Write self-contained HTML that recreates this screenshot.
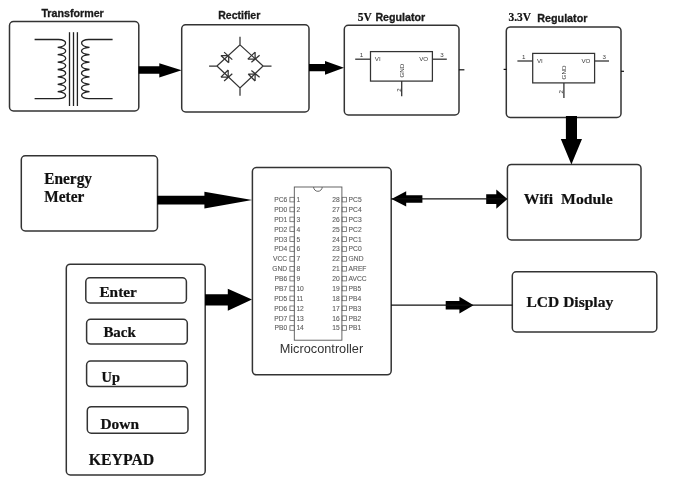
<!DOCTYPE html>
<html><head><meta charset="utf-8">
<style>
html,body{margin:0;padding:0;background:#fff;width:692px;height:494px;overflow:hidden}
svg{display:block}
.bx{fill:none;stroke:#333;stroke-width:1.5}
.ln{fill:none;stroke:#111;stroke-width:1.2}
.cal{font-family:"Liberation Sans",sans-serif;font-weight:bold;fill:#1a1a1a;stroke:#1a1a1a;stroke-width:0.3}
.tnr{font-family:"Liberation Serif",serif;font-weight:bold;fill:#111;stroke:#111;stroke-width:0.22}
.cl{fill:none;stroke:#222;stroke-width:1.3}
.pn{font-family:"Liberation Sans",sans-serif;font-size:6.7px;fill:#555;stroke:#777;stroke-width:0.12}
.sq{fill:none;stroke:#666;stroke-width:0.8}
.reg line{stroke:#333;stroke-width:1.3}
.rt{font-family:"Liberation Sans",sans-serif;font-size:6.2px;fill:#383838}
.dm path{fill:none;stroke:#333;stroke-width:1.25}
</style></head>
<body>
<svg style="will-change:transform" width="692" height="494" viewBox="0 0 692 494">
<rect class="bx" x="9.5" y="21.5" width="129.3" height="89.5" rx="4"/>
<rect class="bx" x="181.7" y="24.8" width="127.3" height="87.2" rx="4"/>
<rect class="bx" x="344.3" y="25.3" width="114.7" height="89.7" rx="4"/>
<rect class="bx" x="506.3" y="26.9" width="114.7" height="90.5" rx="4"/>
<rect class="bx" x="21.3" y="155.8" width="136.2" height="75.2" rx="4"/>
<rect class="bx" x="252.4" y="167.5" width="138.8" height="207.3" rx="4"/>
<rect class="bx" x="507.4" y="164.4" width="133.6" height="75.6" rx="4"/>
<rect class="bx" x="512.3" y="271.8" width="144.5" height="60.1" rx="4"/>
<rect class="bx" x="66.3" y="264.2" width="138.9" height="210.8" rx="4"/>
<rect class="bx" x="85.8" y="277.8" width="100.6" height="25.1" rx="4"/>
<rect class="bx" x="86.6" y="319.3" width="100.7" height="24.8" rx="4"/>
<rect class="bx" x="86.6" y="361.1" width="100.7" height="25.5" rx="4"/>
<rect class="bx" x="87.3" y="406.7" width="100.7" height="26.5" rx="4"/>
<g fill="#000">
<polygon points="138.6,66.2 159.3,66.2 159.3,63.2 181.6,70.3 159.3,77.6 159.3,73.8 138.6,73.8"/>
<polygon points="309,64.1 325,64.1 325,61 344,67.8 325,74.7 325,71.3 309,71.3"/>
<polygon points="565.9,116 577,116 577,139 582,139 571.4,164.5 560.8,139 565.9,139"/>
<polygon points="157.2,195.7 204.4,195.7 204.4,191.7 252.2,200 204.4,208.4 204.4,204.4 157.2,204.4"/>
<polygon points="205,294.3 227.8,294.3 227.8,288.8 252,299.5 227.8,310.7 227.8,305.5 205,305.5"/>
<polygon points="391.5,198.9 406.2,191.2 406.2,195.3 422.4,195.3 422.4,202.8 406.2,202.8 406.2,206.4"/>
<polygon points="486.2,194.3 496.3,194.3 496.3,189.6 507.4,198.9 496.3,208.8 496.3,204 486.2,204"/>
<polygon points="445.7,301 459.4,301 459.4,296.8 473.6,305.2 459.4,313.6 459.4,309.6 445.7,309.6"/>
</g>
<line class="ln" x1="391" y1="198.9" x2="507" y2="198.9"/>
<line class="ln" x1="391" y1="305.1" x2="512.5" y2="305.1"/>
<text class="cal" x="41.4" y="17.3" font-size="10.4" textLength="62.4" lengthAdjust="spacingAndGlyphs">Transformer</text>
<text class="cal" x="218.2" y="19.1" font-size="10.4" textLength="42.1" lengthAdjust="spacingAndGlyphs">Rectifier</text>
<text class="tnr" x="357.8" y="20.7" font-size="12.8" textLength="14" lengthAdjust="spacingAndGlyphs">5V</text>
<text class="cal" x="375.4" y="20.9" font-size="10.4" textLength="49.8" lengthAdjust="spacingAndGlyphs">Regulator</text>
<text class="tnr" x="508.4" y="20.8" font-size="12.5" textLength="22.7" lengthAdjust="spacingAndGlyphs">3.3V</text>
<text class="cal" x="537.3" y="21.6" font-size="10.3" textLength="50.1" lengthAdjust="spacingAndGlyphs">Regulator</text>
<text class="tnr" x="44.3" y="183.7" font-size="15.8" textLength="47.7" lengthAdjust="spacingAndGlyphs">Energy</text>
<text class="tnr" x="44.3" y="201.9" font-size="15.8" textLength="40" lengthAdjust="spacingAndGlyphs">Meter</text>
<text class="tnr" x="523.8" y="203.6" font-size="15.6" textLength="88.9" lengthAdjust="spacingAndGlyphs" xml:space="preserve">Wifi  Module</text>
<text class="tnr" x="526.5" y="306.9" font-size="15.6" textLength="86.7" lengthAdjust="spacingAndGlyphs">LCD Display</text>
<text class="tnr" x="99.4" y="297" font-size="15.5" textLength="37.5" lengthAdjust="spacingAndGlyphs">Enter</text>
<text class="tnr" x="103.4" y="337.1" font-size="15.5" textLength="32.4" lengthAdjust="spacingAndGlyphs">Back</text>
<text class="tnr" x="101.6" y="381.6" font-size="15.5" textLength="18.4" lengthAdjust="spacingAndGlyphs">Up</text>
<text class="tnr" x="100.5" y="429" font-size="15.5" textLength="38.5" lengthAdjust="spacingAndGlyphs">Down</text>
<text class="tnr" x="88.7" y="465.1" font-size="15.9" textLength="65.6" lengthAdjust="spacingAndGlyphs">KEYPAD</text>
<text font-family="Liberation Sans, sans-serif" fill="#333" x="279.7" y="353.2" font-size="13.5" textLength="83.5" lengthAdjust="spacingAndGlyphs">Microcontroller</text>
<path class="cl" d="M34.6 39.5 L58.5 39.5 C67.83 39.5 68.37 46.30 57.70 47.30 C68.37 48.30 68.37 53.70 57.70 54.70 C68.37 55.70 68.37 61.10 57.70 62.10 C68.37 63.10 68.37 68.50 57.70 69.50 C68.37 70.50 68.37 75.90 57.70 76.90 C68.37 77.90 68.37 83.30 57.70 84.30 C68.37 85.30 68.37 90.70 57.70 91.70 C68.37 92.70 67.83 98.6 58.5 98.6 L34.6 98.6"/>
<path class="cl" transform="translate(147.2,0) scale(-1,1)" d="M34.6 39.5 L58.5 39.5 C67.83 39.5 68.37 46.30 57.70 47.30 C68.37 48.30 68.37 53.70 57.70 54.70 C68.37 55.70 68.37 61.10 57.70 62.10 C68.37 63.10 68.37 68.50 57.70 69.50 C68.37 70.50 68.37 75.90 57.70 76.90 C68.37 77.90 68.37 83.30 57.70 84.30 C68.37 85.30 68.37 90.70 57.70 91.70 C68.37 92.70 67.83 98.6 58.5 98.6 L34.6 98.6"/>
<line class="cl" x1="69.5" y1="32.2" x2="69.5" y2="106"/>
<line class="cl" x1="73.5" y1="32.2" x2="73.5" y2="106"/>
<line class="cl" x1="77.4" y1="32.2" x2="77.4" y2="106"/>
<rect x="294.3" y="187" width="47.6" height="153.2" fill="none" stroke="#555" stroke-width="0.9"/>
<path d="M313.6 187 A4.3 4.3 0 0 0 322.2 187" fill="none" stroke="#555" stroke-width="0.9"/>
<text class="pn" x="287.2" y="202.0" text-anchor="end">PC6</text>
<text class="pn" x="296.4" y="202.0">1</text>
<text class="pn" x="339.7" y="202.0" text-anchor="end">28</text>
<text class="pn" x="348.6" y="202.0">PC5</text>
<rect class="sq" x="289.9" y="197.3" width="4.4" height="4.6"/>
<rect class="sq" x="342.1" y="197.3" width="4.4" height="4.6"/>
<text class="pn" x="287.2" y="211.9" text-anchor="end">PD0</text>
<text class="pn" x="296.4" y="211.9">2</text>
<text class="pn" x="339.7" y="211.9" text-anchor="end">27</text>
<text class="pn" x="348.6" y="211.9">PC4</text>
<rect class="sq" x="289.9" y="207.2" width="4.4" height="4.6"/>
<rect class="sq" x="342.1" y="207.2" width="4.4" height="4.6"/>
<text class="pn" x="287.2" y="221.8" text-anchor="end">PD1</text>
<text class="pn" x="296.4" y="221.8">3</text>
<text class="pn" x="339.7" y="221.8" text-anchor="end">26</text>
<text class="pn" x="348.6" y="221.8">PC3</text>
<rect class="sq" x="289.9" y="217.1" width="4.4" height="4.6"/>
<rect class="sq" x="342.1" y="217.1" width="4.4" height="4.6"/>
<text class="pn" x="287.2" y="231.6" text-anchor="end">PD2</text>
<text class="pn" x="296.4" y="231.6">4</text>
<text class="pn" x="339.7" y="231.6" text-anchor="end">25</text>
<text class="pn" x="348.6" y="231.6">PC2</text>
<rect class="sq" x="289.9" y="226.9" width="4.4" height="4.6"/>
<rect class="sq" x="342.1" y="226.9" width="4.4" height="4.6"/>
<text class="pn" x="287.2" y="241.5" text-anchor="end">PD3</text>
<text class="pn" x="296.4" y="241.5">5</text>
<text class="pn" x="339.7" y="241.5" text-anchor="end">24</text>
<text class="pn" x="348.6" y="241.5">PC1</text>
<rect class="sq" x="289.9" y="236.8" width="4.4" height="4.6"/>
<rect class="sq" x="342.1" y="236.8" width="4.4" height="4.6"/>
<text class="pn" x="287.2" y="251.4" text-anchor="end">PD4</text>
<text class="pn" x="296.4" y="251.4">6</text>
<text class="pn" x="339.7" y="251.4" text-anchor="end">23</text>
<text class="pn" x="348.6" y="251.4">PC0</text>
<rect class="sq" x="289.9" y="246.7" width="4.4" height="4.6"/>
<rect class="sq" x="342.1" y="246.7" width="4.4" height="4.6"/>
<text class="pn" x="287.2" y="261.3" text-anchor="end">VCC</text>
<text class="pn" x="296.4" y="261.3">7</text>
<text class="pn" x="339.7" y="261.3" text-anchor="end">22</text>
<text class="pn" x="348.6" y="261.3">GND</text>
<rect class="sq" x="289.9" y="256.6" width="4.4" height="4.6"/>
<rect class="sq" x="342.1" y="256.6" width="4.4" height="4.6"/>
<text class="pn" x="287.2" y="271.2" text-anchor="end">GND</text>
<text class="pn" x="296.4" y="271.2">8</text>
<text class="pn" x="339.7" y="271.2" text-anchor="end">21</text>
<text class="pn" x="348.6" y="271.2">AREF</text>
<rect class="sq" x="289.9" y="266.5" width="4.4" height="4.6"/>
<rect class="sq" x="342.1" y="266.5" width="4.4" height="4.6"/>
<text class="pn" x="287.2" y="281.0" text-anchor="end">PB6</text>
<text class="pn" x="296.4" y="281.0">9</text>
<text class="pn" x="339.7" y="281.0" text-anchor="end">20</text>
<text class="pn" x="348.6" y="281.0">AVCC</text>
<rect class="sq" x="289.9" y="276.3" width="4.4" height="4.6"/>
<rect class="sq" x="342.1" y="276.3" width="4.4" height="4.6"/>
<text class="pn" x="287.2" y="290.9" text-anchor="end">PB7</text>
<text class="pn" x="296.4" y="290.9">10</text>
<text class="pn" x="339.7" y="290.9" text-anchor="end">19</text>
<text class="pn" x="348.6" y="290.9">PB5</text>
<rect class="sq" x="289.9" y="286.2" width="4.4" height="4.6"/>
<rect class="sq" x="342.1" y="286.2" width="4.4" height="4.6"/>
<text class="pn" x="287.2" y="300.8" text-anchor="end">PD5</text>
<text class="pn" x="296.4" y="300.8">11</text>
<text class="pn" x="339.7" y="300.8" text-anchor="end">18</text>
<text class="pn" x="348.6" y="300.8">PB4</text>
<rect class="sq" x="289.9" y="296.1" width="4.4" height="4.6"/>
<rect class="sq" x="342.1" y="296.1" width="4.4" height="4.6"/>
<text class="pn" x="287.2" y="310.7" text-anchor="end">PD6</text>
<text class="pn" x="296.4" y="310.7">12</text>
<text class="pn" x="339.7" y="310.7" text-anchor="end">17</text>
<text class="pn" x="348.6" y="310.7">PB3</text>
<rect class="sq" x="289.9" y="306.0" width="4.4" height="4.6"/>
<rect class="sq" x="342.1" y="306.0" width="4.4" height="4.6"/>
<text class="pn" x="287.2" y="320.6" text-anchor="end">PD7</text>
<text class="pn" x="296.4" y="320.6">13</text>
<text class="pn" x="339.7" y="320.6" text-anchor="end">16</text>
<text class="pn" x="348.6" y="320.6">PB2</text>
<rect class="sq" x="289.9" y="315.9" width="4.4" height="4.6"/>
<rect class="sq" x="342.1" y="315.9" width="4.4" height="4.6"/>
<text class="pn" x="287.2" y="330.4" text-anchor="end">PB0</text>
<text class="pn" x="296.4" y="330.4">14</text>
<text class="pn" x="339.7" y="330.4" text-anchor="end">15</text>
<text class="pn" x="348.6" y="330.4">PB1</text>
<rect class="sq" x="289.9" y="325.7" width="4.4" height="4.6"/>
<rect class="sq" x="342.1" y="325.7" width="4.4" height="4.6"/>
<g class="reg">
<rect x="370.5" y="51.6" width="61.9" height="29.5" fill="none" stroke="#333" stroke-width="1.25"/>
<line x1="355.2" y1="59.2" x2="370.5" y2="59.2"/>
<line x1="432.4" y1="59.2" x2="446.8" y2="59.2"/>
<line x1="401.7" y1="81.1" x2="401.7" y2="96.2"/>
<text class="rt" x="359.8" y="57.2">1</text>
<text class="rt" x="440.2" y="57.2">3</text>
<text class="rt" x="374.8" y="60.9">VI</text>
<text class="rt" x="419.2" y="60.9">VO</text>
<text class="rt" transform="translate(403.8,77.6) rotate(-90)">GND</text>
<text class="rt" transform="translate(400.6,91.8) rotate(-90)">2</text>
</g>
<g transform="translate(162.2,1.8)"><g class="reg">
<rect x="370.5" y="51.6" width="61.9" height="29.5" fill="none" stroke="#333" stroke-width="1.25"/>
<line x1="355.2" y1="59.2" x2="370.5" y2="59.2"/>
<line x1="432.4" y1="59.2" x2="446.8" y2="59.2"/>
<line x1="401.7" y1="81.1" x2="401.7" y2="96.2"/>
<text class="rt" x="359.8" y="57.2">1</text>
<text class="rt" x="440.2" y="57.2">3</text>
<text class="rt" x="374.8" y="60.9">VI</text>
<text class="rt" x="419.2" y="60.9">VO</text>
<text class="rt" transform="translate(403.8,77.6) rotate(-90)">GND</text>
<text class="rt" transform="translate(400.6,91.8) rotate(-90)">2</text>
</g></g>
<g class="dm">
<path d="M240 44.9 L263.1 66 L240 88 L216.9 66 Z M240 36.8 V44.9 M240 88 V95.7 M209.1 66 H216.9 M263.1 66 H271.5"/>
<path d="M228.7 55.5 H220.9 M228.7 55.5 V62.8 M220.9 55.5 L228.7 62.8 M224.1 52.1 L232.3 59.6"/>
<path d="M255.1 59.1 V52.1 M255.1 59.1 H247.8 M255.1 52.1 L247.8 59.1 M251.4 62.3 L259.6 55.2"/>
<path d="M228.2 77.1 V70 M228.2 77.1 H220.9 M228.2 70 L220.9 77.1 M224.1 81 L232.3 73.7"/>
<path d="M255.1 74 H248.2 M255.1 74 V81 M248.2 74 L255.1 81 M251.4 70.5 L259.6 77.3"/>
</g>
<line class="ln" x1="458.9" y1="69.8" x2="464.4" y2="69.8"/>
<line class="ln" x1="503.6" y1="69.4" x2="506.5" y2="69.4"/>
<line class="ln" x1="621" y1="71.3" x2="624" y2="71.3"/>
</svg>
</body></html>
